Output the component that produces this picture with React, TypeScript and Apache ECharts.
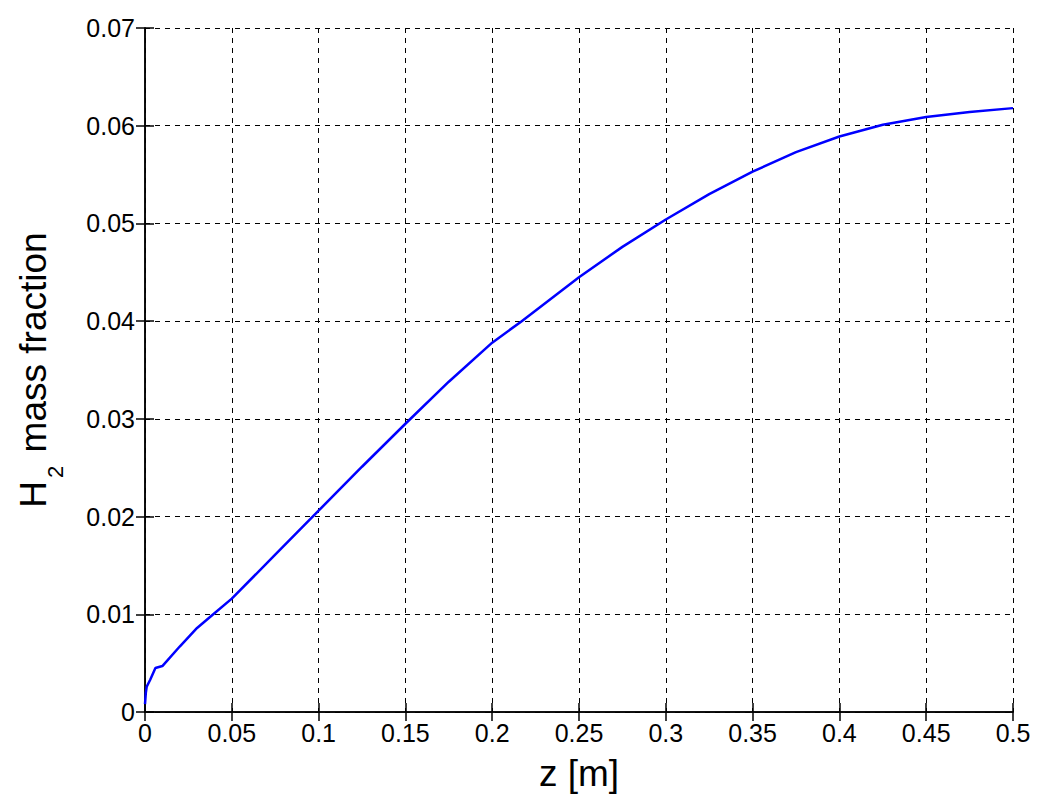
import React, { useEffect, useRef } from "react";
import * as echarts from "echarts";

const zValues = [0, 0.0005, 0.001, 0.003, 0.006, 0.010, 0.02, 0.03, 0.04, 0.05, 0.075, 0.1, 0.125, 0.15, 0.175, 0.2, 0.217, 0.25, 0.275, 0.3, 0.325, 0.35, 0.375, 0.4, 0.425, 0.45, 0.475, 0.5];
const h2Values = [0.0008, 0.0020, 0.0026, 0.0033, 0.0045, 0.0047, 0.0067, 0.0086, 0.0101, 0.0116, 0.0161, 0.0206, 0.0251, 0.0295, 0.0338, 0.0378, 0.0400, 0.0445, 0.0476, 0.0504, 0.0530, 0.0553, 0.0573, 0.0589, 0.0601, 0.0609, 0.0614, 0.0618];

const xTickLabels = ["0", "0.05", "0.1", "0.15", "0.2", "0.25", "0.3", "0.35", "0.4", "0.45", "0.5"];
const yTickLabels = ["0", "0.01", "0.02", "0.03", "0.04", "0.05", "0.06", "0.07"];

export default function App() {
  const ref = useRef<HTMLDivElement>(null);
  useEffect(() => {
    if (!ref.current) return;
    const chart = echarts.init(ref.current, null, { renderer: "svg" });
    const font = "Liberation Sans, Arial, sans-serif";
    const tickFont = { fontFamily: font, fontSize: 25, color: "#000" };
    const axisLine = { show: true, lineStyle: { color: "#000", width: 1.5 } };
    const axisTick = { show: true, inside: true, length: 9, lineStyle: { color: "#000", width: 1.5 } };
    const splitLine = { show: true, lineStyle: { color: "#000", width: 1, type: [5, 5] as any } };
    const data = zValues.map((z, i) => [z, h2Values[i]]);
    chart.setOption({
      animation: false,
      backgroundColor: "#fff",
      grid: { left: 145, top: 28, right: 33, bottom: 94, containLabel: false, outerBoundsMode: "none" },
      xAxis: [
        {
          type: "value", min: 0, max: 0.5, interval: 0.05, position: "bottom",
          axisLine, axisTick, splitLine,
          axisLabel: { ...tickFont, margin: 8, formatter: (v: number) => xTickLabels[Math.round(v / 0.05)] ?? "" },
          name: "z [m]", nameLocation: "middle", nameGap: 43,
          nameTextStyle: { fontFamily: font, fontSize: 37, color: "#000" },
        },
        {
          type: "value", min: 0, max: 0.5, interval: 0.05, position: "top",
          axisLine, axisTick, splitLine: { show: false }, axisLabel: { show: false },
        },
      ],
      yAxis: [
        {
          type: "value", min: 0, max: 0.07, interval: 0.01, position: "left",
          axisLine, axisTick, splitLine,
          axisLabel: { ...tickFont, margin: 10, formatter: (v: number) => yTickLabels[Math.round(v / 0.01)] ?? "" },
          name: "{h|H}{s|2}{h| mass fraction}", nameLocation: "middle", nameGap: 92, nameRotate: 90,
          nameTextStyle: {
            fontFamily: font, fontSize: 37, color: "#000",
            rich: {
              h: { fontFamily: font, fontSize: 37, color: "#000", lineHeight: 40 },
              s: { fontFamily: font, fontSize: 22, color: "#000", lineHeight: 22, padding: [44, 3, 0, 3] },
            },
          },
        },
        {
          type: "value", min: 0, max: 0.07, interval: 0.01, position: "right",
          axisLine, axisTick, splitLine: { show: false }, axisLabel: { show: false },
        },
      ],
      series: [
        {
          type: "line", data, showSymbol: false, symbol: "none",
          lineStyle: { color: "#0000ff", width: 2.5 }, xAxisIndex: 0, yAxisIndex: 0,
        },
      ],
    });
    return () => chart.dispose();
  }, []);
  return <div ref={ref} style={{ position: "fixed", left: 0, top: 0, width: 1046, height: 806 }} />;
}
